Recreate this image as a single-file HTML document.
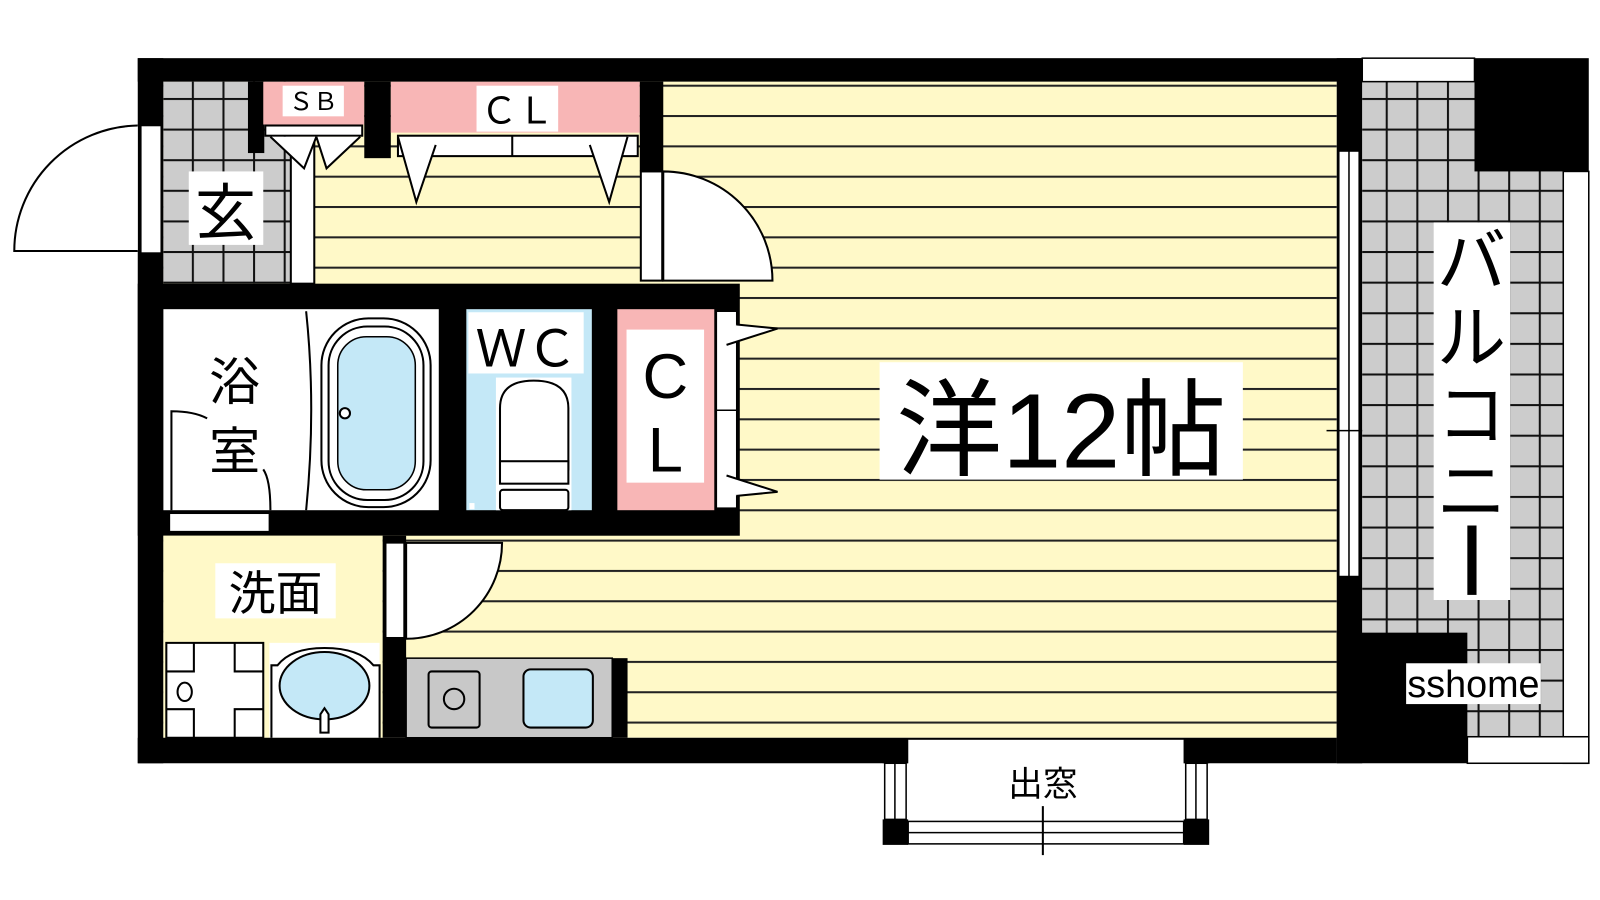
<!DOCTYPE html>
<html><head><meta charset="utf-8"><style>
html,body{margin:0;padding:0;background:#fff;}
svg{display:block;}
text{font-family:"Liberation Sans","Noto Sans CJK JP",sans-serif;fill:#000;}
</style></head><body>
<svg width="1600" height="900" viewBox="0 0 1568 882" xmlns="http://www.w3.org/2000/svg">
<defs>
<pattern id="fl" patternUnits="userSpaceOnUse" x="0" y="83" width="40" height="29.72">
<rect width="40" height="29.72" fill="#fff9c8"/><rect y="0" width="40" height="2" fill="#222"/>
</pattern>
<pattern id="gr" patternUnits="userSpaceOnUse" x="8" y="6" width="30" height="30">
<rect width="30" height="30" fill="#cccccc"/><rect width="2" height="30" fill="#111"/><rect width="30" height="2" fill="#111"/>
</pattern>
</defs>
<rect width="1568" height="882" fill="#fff"/>
<!-- main floor -->
<rect x="160" y="80" width="1150" height="643" fill="url(#fl)"/>
<!-- genkan -->
<rect x="160" y="80" width="125" height="198" fill="url(#gr)"/>
<rect x="285" y="138" width="23" height="140" fill="#fff" stroke="#000" stroke-width="2"/>
<rect x="185" y="168" width="73" height="72" fill="#fff"/>
<text x="221" y="230" font-size="60" text-anchor="middle">玄</text>
<!-- SB -->
<rect x="243" y="80" width="16" height="70" fill="#000"/>
<rect x="258" y="80" width="99" height="42" fill="#f8b6b6"/>
<rect x="277" y="84" width="60" height="30" fill="#fff"/>
<text x="307" y="108" font-size="24" text-anchor="middle">ＳＢ</text>
<rect x="260" y="123" width="95" height="10" fill="#fff" stroke="#000" stroke-width="2"/>
<path d="M265,134 L298,165 L310,134 M310,134 L320,165 L353,134" fill="#fff" stroke="#000" stroke-width="2"/>
<!-- CL top -->
<rect x="357" y="80" width="26" height="75" fill="#000"/>
<rect x="383" y="80" width="244" height="50" fill="#f8b6b6"/>
<rect x="467" y="84" width="80" height="45" fill="#fff"/>
<text x="507" y="121" font-size="36" text-anchor="middle">ＣＬ</text>
<rect x="390" y="133" width="235" height="20" fill="#fff" stroke="#000" stroke-width="2"/>
<line x1="502" y1="133" x2="502" y2="153" stroke="#000" stroke-width="2"/>
<path d="M390,134 L408,198 L427,142 M615,134 L597,198 L578,142" fill="#fff" stroke="#000" stroke-width="2"/>
<rect x="627" y="80" width="23" height="88" fill="#000"/>
<!-- door to room -->
<rect x="628" y="168" width="21" height="107" fill="#fff" stroke="#000" stroke-width="2"/>
<path d="M650,168 A107,107 0 0 1 757,275 L650,275 Z" fill="#fff" stroke="#000" stroke-width="2"/>
<!-- middle block -->
<rect x="135" y="278" width="590" height="247" fill="#000"/>
<rect x="160" y="303" width="270" height="197" fill="#fff"/>
<path d="M300,305 Q310,400 300,500" fill="none" stroke="#000" stroke-width="2"/>
<rect x="315" y="312" width="107" height="185" rx="46" fill="#fff" stroke="#000" stroke-width="2"/>
<rect x="322" y="320" width="93" height="170" rx="38" fill="none" stroke="#000" stroke-width="2"/>
<rect x="331" y="330" width="76" height="150" rx="28" fill="#c4e8f7" stroke="#000" stroke-width="1.5"/>
<circle cx="338" cy="405" r="5" fill="#fff" stroke="#000" stroke-width="2"/>
<path d="M168,500 L168,403 Q190,403 203,410 M265,500 Q265,470 258,460" fill="none" stroke="#000" stroke-width="2"/>
<rect x="166" y="503" width="98" height="18" fill="#fff" stroke="#000" stroke-width="1.5"/>
<text x="230" y="392" font-size="50" text-anchor="middle">浴</text>
<text x="230" y="460" font-size="50" text-anchor="middle">室</text>
<!-- WC -->
<rect x="457" y="303" width="123" height="197" fill="#c4e8f7"/>
<rect x="459" y="306" width="113" height="60" fill="#fff"/>
<text x="516" y="359" font-size="50" text-anchor="middle">ＷＣ</text>
<rect x="486" y="370" width="74" height="130" fill="#fff"/>
<path d="M490,460 L490,400 Q490,373 523,373 Q557,373 557,400 L557,460 Z" fill="#fff" stroke="#000" stroke-width="2"/>
<rect x="490" y="452" width="67" height="22" fill="#fff" stroke="#000" stroke-width="2"/>
<rect x="490" y="480" width="67" height="20" rx="3" fill="#fff" stroke="#000" stroke-width="2"/>
<rect x="460" y="493" width="5" height="6" fill="#fff"/>
<!-- CL mid -->
<rect x="605" y="303" width="95" height="197" fill="#f8b6b6"/>
<rect x="614" y="323" width="76" height="150" fill="#fff"/>
<text x="652" y="390" font-size="62" text-anchor="middle">C</text>
<text x="652" y="462" font-size="62" text-anchor="middle">L</text>
<rect x="702" y="305" width="20" height="193" fill="#fff" stroke="#000" stroke-width="1.5"/>
<line x1="702" y1="402" x2="722" y2="402" stroke="#000" stroke-width="1.5"/>
<path d="M712,338 L762,322 L722,318 M712,466 L762,482 L722,486" fill="#fff" stroke="#000" stroke-width="2"/>
<!-- washroom -->
<rect x="160" y="525" width="215" height="198" fill="#fff9c8"/>
<rect x="211" y="552" width="118" height="54" fill="#fff"/>
<text x="270" y="598" font-size="46" text-anchor="middle">洗面</text>
<path d="M163,630 H258 V723 H163 Z" fill="#fff" stroke="#000" stroke-width="2"/>
<path d="M163,658 H190 V630 M230,630 V658 H258 M163,695 H190 V723 M230,723 V695 H258" fill="none" stroke="#000" stroke-width="2"/>
<ellipse cx="181" cy="678" rx="7" ry="9" fill="#fff" stroke="#000" stroke-width="2"/>
<rect x="264" y="630" width="108" height="93" fill="#fff"/>
<path d="M266,723 V652 H272 Q285,635 318,635 Q352,635 366,652 H372 V723" fill="none" stroke="#000" stroke-width="2"/>
<ellipse cx="318" cy="672" rx="44" ry="33" fill="#c4e8f7" stroke="#000" stroke-width="2"/>
<path d="M314,718 V700 L318,694 L322,700 V718 Z" fill="#fff" stroke="#000" stroke-width="2"/>
<rect x="375" y="525" width="23" height="198" fill="#000"/>
<rect x="378" y="532" width="18" height="93" fill="#fff" stroke="#000" stroke-width="1.5"/>
<path d="M398,532 L492,532 A94,94 0 0 1 398,626 Z" fill="#fff" stroke="#000" stroke-width="2"/>
<!-- kitchen -->
<rect x="398" y="645" width="202" height="78" fill="#c8c8c8" stroke="#000" stroke-width="1.5"/>
<rect x="420" y="658" width="50" height="55" rx="3" fill="#c8c8c8" stroke="#000" stroke-width="2"/>
<circle cx="445" cy="685" r="10" fill="none" stroke="#000" stroke-width="2"/>
<rect x="513" y="656" width="68" height="57" rx="7" fill="#c4e8f7" stroke="#000" stroke-width="2"/>
<rect x="600" y="645" width="15" height="78" fill="#000"/>
<!-- outer walls -->
<rect x="135" y="57" width="1200" height="23" fill="#000"/>
<rect x="135" y="57" width="25" height="691" fill="#000"/>
<rect x="135" y="723" width="1175" height="25" fill="#000"/>
<rect x="1310" y="57" width="25" height="691" fill="#000"/>
<!-- entrance door -->
<rect x="138" y="123" width="20" height="125" fill="#fff" stroke="#000" stroke-width="1.5"/>
<path d="M135,123 A123,123 0 0 0 14,246 L135,246" fill="#fff" stroke="#000" stroke-width="2"/>
<!-- window right -->
<rect x="1312" y="148" width="20" height="417" fill="#fff" stroke="#000" stroke-width="1.5"/>
<line x1="1322" y1="148" x2="1322" y2="565" stroke="#000" stroke-width="1.5"/>
<line x1="1300" y1="422" x2="1343" y2="422" stroke="#000" stroke-width="1.5"/>
<!-- balcony -->
<rect x="1335" y="80" width="197" height="642" fill="url(#gr)"/>
<rect x="1335" y="57" width="110" height="23" fill="#fff" stroke="#000" stroke-width="1.5"/>
<rect x="1445" y="57" width="112" height="111" fill="#000"/>
<rect x="1532" y="168" width="25" height="580" fill="#fff" stroke="#000" stroke-width="1.5"/>
<rect x="1438" y="722" width="119" height="26" fill="#fff" stroke="#000" stroke-width="1.5"/>
<rect x="1310" y="620" width="128" height="128" fill="#000"/>
<rect x="1405" y="218" width="75" height="370" fill="#fff"/>
<text x="1442" y="280" font-size="68" text-anchor="middle">バ</text>
<text x="1442" y="355" font-size="68" text-anchor="middle">ル</text>
<text x="1442" y="430" font-size="68" text-anchor="middle">コ</text>
<text x="1442" y="505" font-size="68" text-anchor="middle">ニ</text>
<rect x="1438" y="515" width="9" height="68" fill="#000"/>
<rect x="1378" y="650" width="132" height="40" fill="#fff"/>
<text x="1444" y="683" font-size="37" text-anchor="middle">sshome</text>
<!-- 洋12帖 -->
<rect x="862" y="355" width="356" height="115" fill="#fff"/>
<text x="1040" y="458" font-size="104" text-anchor="middle">洋12帖</text>
<!-- bay window -->
<rect x="890" y="725" width="270" height="80" fill="#fff"/>
<rect x="865" y="725" width="25" height="23" fill="#000"/>
<rect x="1160" y="725" width="25" height="23" fill="#000"/>
<rect x="867" y="748" width="21" height="55" fill="#fff" stroke="#000" stroke-width="1.5"/>
<line x1="877" y1="748" x2="877" y2="803" stroke="#000" stroke-width="1.5"/>
<rect x="1162" y="748" width="21" height="55" fill="#fff" stroke="#000" stroke-width="1.5"/>
<line x1="1172" y1="748" x2="1172" y2="803" stroke="#000" stroke-width="1.5"/>
<rect x="865" y="803" width="25" height="25" fill="#000"/>
<rect x="1160" y="803" width="25" height="25" fill="#000"/>
<rect x="890" y="805" width="270" height="22" fill="#fff" stroke="#000" stroke-width="1.5"/>
<line x1="890" y1="816" x2="1160" y2="816" stroke="#000" stroke-width="1.5"/>
<line x1="1022" y1="790" x2="1022" y2="838" stroke="#000" stroke-width="2"/>
<text x="1022" y="780" font-size="34" text-anchor="middle">出窓</text>
</svg>
</body></html>
